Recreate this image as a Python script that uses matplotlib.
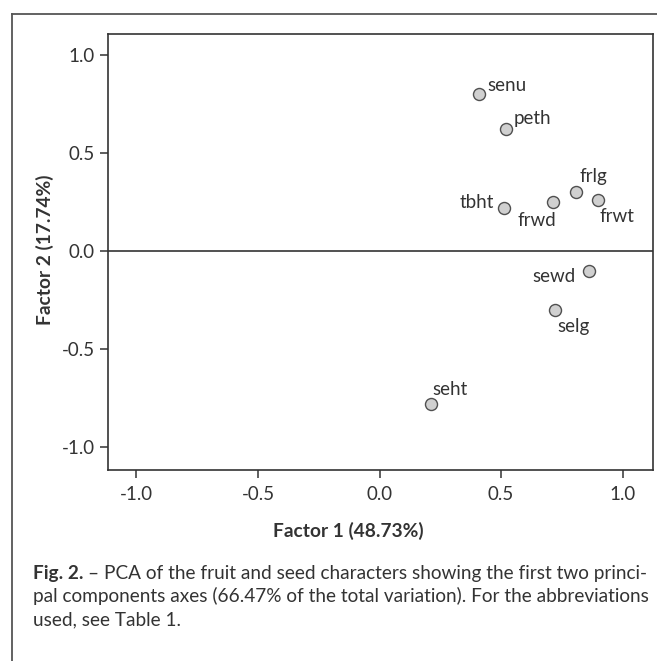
import matplotlib.pyplot as plt
from matplotlib.lines import Line2D

# PCA loadings
labels = ['senu', 'peth', 'frlg', 'frwt', 'frwd', 'tbht', 'sewd', 'selg', 'seht']
factor1 = [0.41, 0.52, 0.81, 0.90, 0.715, 0.51, 0.86, 0.72, 0.21]
factor2 = [0.80, 0.62, 0.30, 0.26, 0.25, 0.22, -0.10, -0.30, -0.78]
ticks = [-1.0, -0.5, 0.0, 0.5, 1.0]

# label placement: offset in points from the marker, horizontal alignment
offsets = {
    'senu': ((5.8, 2.2), 'left'),
    'peth': ((5.8, 3.6), 'left'),
    'frlg': ((2.2, 7.2), 'left'),
    'frwt': ((1.0, -15.8), 'left'),
    'frwd': ((2.2, -17.3), 'right'),
    'tbht': ((-7.2, 0.0), 'right'),
    'sewd': ((-9.4, -7.9), 'right'),
    'selg': ((2.2, -15.8), 'left'),
    'seht': ((1.4, 6.5), 'left'),
}

plt.rcParams['font.family'] = ['Lato', 'DejaVu Sans']
ink = '#333333'
fs = 13.5

fig = plt.figure(figsize=(6.57, 6.61), dpi=100)
W, H = 657, 661
ax = fig.add_axes([108 / W, 1 - 470 / H, (653 - 108) / W, (470 - 34) / H])

ax.scatter(factor1, factor2, s=75, facecolor='#d0d0d0', edgecolor='#505050',
           linewidth=1.0, zorder=3)
for name, x, y in zip(labels, factor1, factor2):
    (dx, dy), ha = offsets[name]
    ax.annotate(name, (x, y), xytext=(dx, dy), textcoords='offset points',
                ha=ha, va='baseline', fontsize=fs, color=ink)

ax.axhline(0, color=ink, linewidth=1.2, zorder=1)
ax.set_xlim(-1.117, 1.125)
ax.set_ylim(-1.117, 1.107)
ax.set_xticks(ticks)
ax.set_yticks(ticks)
ax.set_xticklabels(['%.1f' % t for t in ticks])
ax.set_yticklabels(['%.1f' % t for t in ticks])
ax.tick_params(labelsize=fs, colors=ink, length=6, width=1.1)
ax.tick_params(axis='x', pad=5.5)
ax.tick_params(axis='y', pad=3.5)
for sp in ax.spines.values():
    sp.set_color(ink)
    sp.set_linewidth(1.2)

fig.text(348 / W, 1 - 531 / H, 'Factor 1 (48.73%)', fontsize=13.8, fontweight='bold',
         color=ink, ha='center', va='center')
fig.text(45 / W, 1 - 250 / H, 'Factor 2 (17.74%)', fontsize=13.8, fontweight='bold',
         color=ink, ha='center', va='center', rotation=90)

# outer frame of the figure panel
frame = '#555555'
fig.add_artist(Line2D([12 / W, 12 / W], [0, 1 - 14 / H], transform=fig.transFigure,
                      color=frame, linewidth=1.3))
fig.add_artist(Line2D([12 / W, 1], [1 - 14 / H, 1 - 14 / H], transform=fig.transFigure,
                      color=frame, linewidth=1.3))

# caption
cap_x = 33 / W
cfs = 13.7
t1 = fig.text(cap_x, 1 - 579 / H, 'Fig. 2.', fontsize=cfs, fontweight='bold',
              color=ink, va='baseline')
fig.canvas.draw()
bb = t1.get_window_extent(fig.canvas.get_renderer())
fig.text(bb.x1 / W + 4 / W, 1 - 579 / H,
         '– PCA of the fruit and seed characters showing the first two princi-',
         fontsize=cfs, color=ink, va='baseline')
fig.text(cap_x, 1 - 602 / H,
         'pal components axes (66.47% of the total variation). For the abbreviations',
         fontsize=cfs, color=ink, va='baseline')
fig.text(cap_x, 1 - 625 / H, 'used, see Table 1.', fontsize=cfs, color=ink, va='baseline')

fig.savefig('out.png', dpi=100)
